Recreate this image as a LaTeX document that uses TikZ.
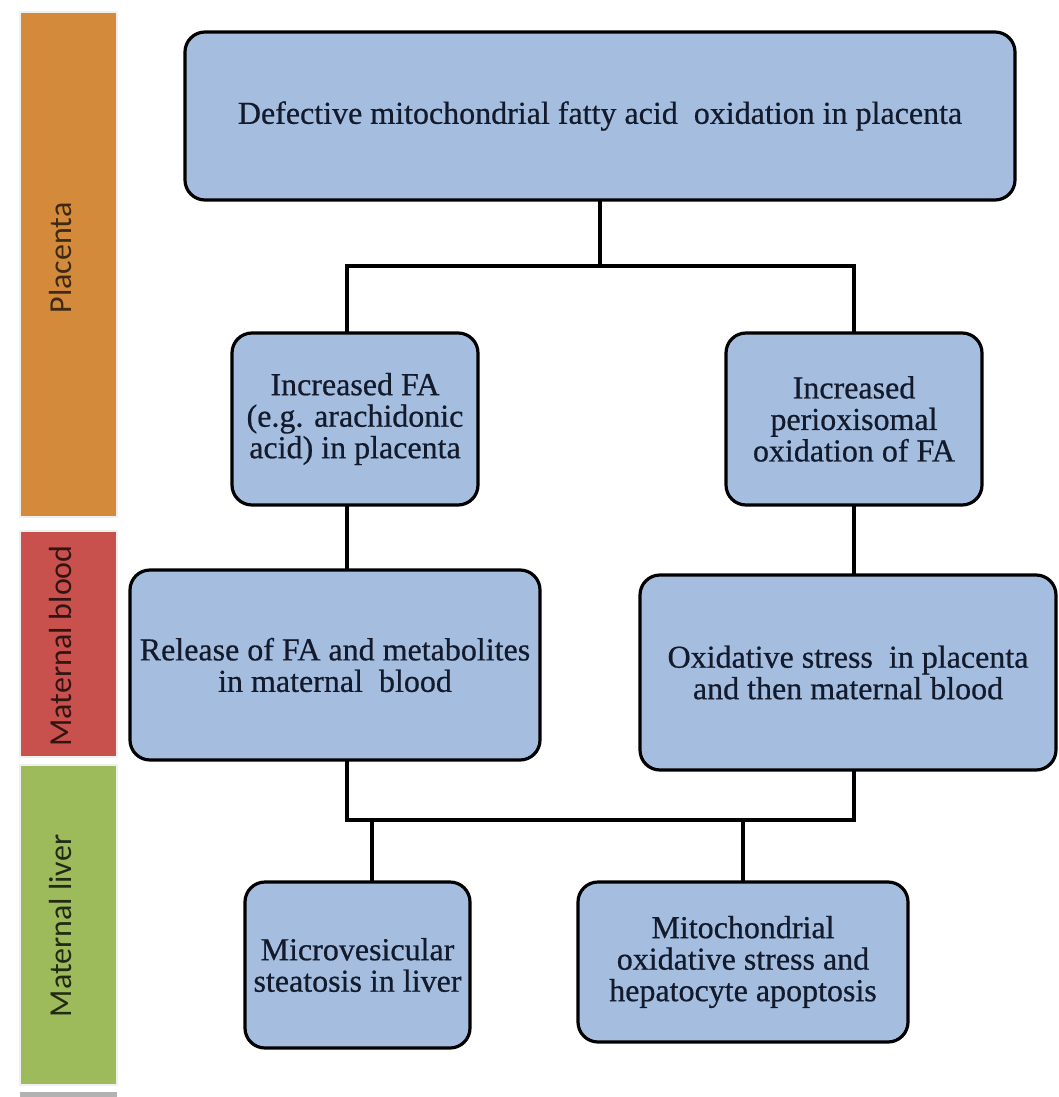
\documentclass[tikz,border=0pt]{standalone}
\usepackage{fontspec}
\setmainfont[FakeBold=0.6]{Liberation Serif}
\newfontfamily\barfont{Carlito}
\definecolor{boxblue}{HTML}{A5BEDF}
\definecolor{placorange}{HTML}{D38A3B}
\definecolor{bloodred}{HTML}{C8514E}
\definecolor{livergreen}{HTML}{9DBB5A}
\definecolor{boxtext}{HTML}{121A2C}
\usetikzlibrary{backgrounds}

\begin{document}
\begin{tikzpicture}[x=1pt, y=-1pt,
    box/.style={draw=black, fill=boxblue, line width=3.2pt, rounded corners=20pt,
                align=center, text=boxtext, inner sep=0pt,
                font=\fontsize{32}{31.5}\selectfont},
    bar/.style={minimum width=97pt, inner sep=0pt, draw=black!6, line width=2.5pt},
    barlabel/.style={rotate=90, inner sep=0pt, font=\barfont\fontsize{32}{34}\selectfont},
    conn/.style={line width=3.4pt, line cap=rect}
  ]
    \useasboundingbox (0,0) rectangle (1058,1097);

    \node[bar, fill=placorange, minimum height=505pt] (plac)  at (68.5,264.5) {};
    \node[bar, fill=bloodred,   minimum height=226pt] (blood) at (68.5,644)   {};
    \node[bar, fill=livergreen, minimum height=320pt] (liver) at (68.5,925)   {};
    \node[barlabel, text=placorange!30!black] (placlab)  at (61,258)   {Placenta};
    \node[barlabel, text=bloodred!25!black]   (bloodlab) at (61,646)   {Maternal blood};
    \node[barlabel, text=livergreen!22!black] (liverlab) at (61,926)   {Maternal liver};
    \fill[black!30] (20,1092) rectangle (117,1097);

    \node[box, minimum width=830pt, minimum height=168pt] (defect)   at (600,116)   {Defective mitochondrial fatty acid \ oxidation in placenta};
    \node[box, minimum width=246pt, minimum height=172pt] (incfa)    at (355,419)   {Increased FA\\(e.g. arachidonic\\acid) in placenta};
    \node[box, minimum width=256pt, minimum height=172pt] (perox)    at (854,419)   {Increased\\perioxisomal\\oxidation of FA};
    \node[box, minimum width=410pt, minimum height=190pt] (release)  at (335,665)   {Release of FA and metabolites\\in maternal \ blood};
    \node[box, minimum width=416pt, minimum height=195pt] (oxstress) at (848,672.5) {Oxidative stress \ in placenta\\and then maternal blood};
    \node[box, minimum width=225pt, minimum height=166pt] (micro)    at (357.5,965) {Microvesicular\\steatosis in liver};
    \node[box, minimum width=330pt, minimum height=160pt] (mito)     at (743,962)   {Mitochondrial\\oxidative stress and\\hepatocyte apoptosis};

    \coordinate (lcol)  at (347,0);
    \coordinate (rcol)  at (854,0);
    \coordinate (mcol)  at (372,0);
    \coordinate (split) at (600,266);
    \coordinate (join)  at (600,820);

    \begin{scope}[on background layer]
    \draw[conn] (defect.south) -- (split);
    \draw[conn] (incfa.north -| lcol) -- (lcol |- split) -- (rcol |- split) -- (perox.north -| rcol);
    \draw[conn] (incfa.south -| lcol) -- (release.north -| lcol);
    \draw[conn] (perox.south -| rcol) -- (oxstress.north -| rcol);
    \draw[conn] (release.south -| lcol) -- (lcol |- join) -- (rcol |- join) -- (oxstress.south -| rcol);
    \draw[conn] (mcol |- join) -- (micro.north -| mcol);
    \draw[conn] (mito.north |- join) -- (mito.north);
    \end{scope}
  \end{tikzpicture}
\end{document}
